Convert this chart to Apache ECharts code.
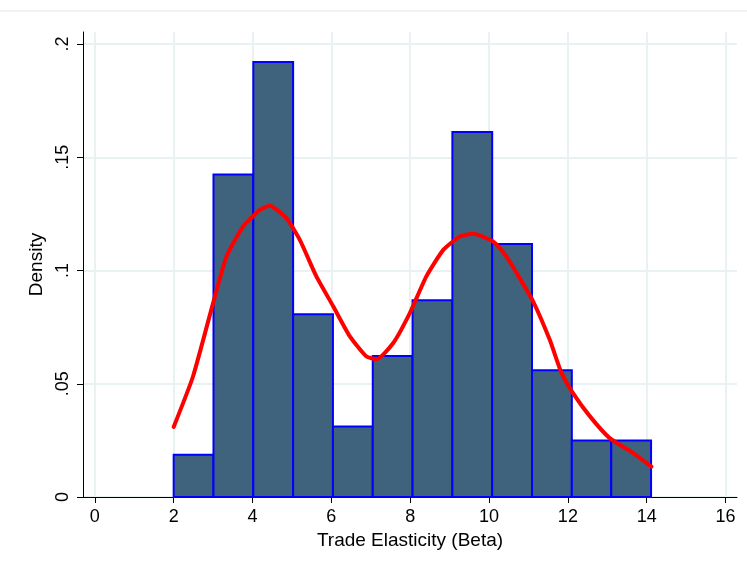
<!DOCTYPE html>
<html>
<head>
<meta charset="utf-8">
<script src="https://cdn.jsdelivr.net/npm/echarts@6/dist/echarts.min.js"></script>
<style>html,body{margin:0;padding:0;background:#fff}#c{width:747px;height:570px}</style>
</head>
<body>
<div id="c"></div>
<script>
// Histogram bins (Trade Elasticity), bin edges and density heights
const binEdges = [2.00, 3.01, 4.02, 5.03, 6.04, 7.05, 8.06, 9.07, 10.08, 11.09, 12.10, 13.10, 14.11];
const binDensity = [0.0187, 0.1424, 0.1920, 0.0807, 0.0311, 0.0623, 0.0869, 0.1611, 0.1117, 0.0560, 0.0249, 0.0249];
// Kernel density curve
const kdeX = [2.00, 2.49, 3.00, 3.34, 3.76, 4.19, 4.44, 4.86, 5.20, 5.62, 6.05, 6.47, 6.89, 7.15, 7.57, 7.99, 8.41, 8.84, 9.26, 9.60, 10.10, 10.44, 10.70, 11.12, 11.54, 11.84, 12.13, 12.56, 13.06, 13.66, 14.12];
const kdeY = [0.0309, 0.0532, 0.0856, 0.1062, 0.1194, 0.1268, 0.1286, 0.1231, 0.1135, 0.0974, 0.0841, 0.0709, 0.0620, 0.0609, 0.0680, 0.0812, 0.0974, 0.1091, 0.1150, 0.1162, 0.1128, 0.1062, 0.0989, 0.0863, 0.0694, 0.0547, 0.0459, 0.0356, 0.0260, 0.0194, 0.0134];
// Tick values
const xTicks = [0, 2, 4, 6, 8, 10, 12, 14, 16];
const yTicks = [0, 0.05, 0.1, 0.15, 0.2];

const FONT = '"Liberation Sans", Arial, sans-serif';
const chart = echarts.init(document.getElementById('c'), null, {renderer: 'canvas'});

const barData = binDensity.map((d, i) => [binEdges[i], binEdges[i + 1], d]);
const kdeData = kdeX.map((x, i) => [x, kdeY[i]]);

chart.setOption({
  animation: false,
  backgroundColor: '#ffffff',
  graphic: [{
    type: 'line', shape: {x1: 0, y1: 11, x2: 747, y2: 11},
    style: {stroke: '#e9eff0', lineWidth: 1.5}, silent: true
  }],
  grid: {left: 83, right: 10, top: 32, bottom: 73, containLabel: false},
  xAxis: {
    type: 'value', min: -0.3, max: 16.29,
    name: 'Trade Elasticity (Beta)', nameLocation: 'middle', nameGap: 29,
    nameTextStyle: {fontFamily: FONT, fontSize: 19, color: '#000'},
    axisLine: {show: true, onZero: false, lineStyle: {color: '#000', width: 1}},
    axisTick: {show: true, length: 6, customValues: xTicks, lineStyle: {color: '#000', width: 1}},
    axisLabel: {customValues: xTicks, fontFamily: FONT, fontSize: 18, color: '#000', margin: 11},
    splitLine: {show: true, lineStyle: {color: '#eaf1f3', width: 2}}
  },
  yAxis: {
    type: 'value', min: 0, max: 0.2053,
    name: 'Density', nameLocation: 'middle', nameGap: 33, nameRotate: 90,
    nameTextStyle: {fontFamily: FONT, fontSize: 19, color: '#000'},
    axisLine: {show: true, onZero: false, lineStyle: {color: '#000', width: 1}},
    axisTick: {show: true, length: 6, customValues: yTicks, lineStyle: {color: '#000', width: 1}},
    axisLabel: {
      customValues: yTicks, rotate: 90, fontFamily: FONT, fontSize: 18, color: '#000', margin: 11,
      formatter: v => v === 0 ? '0' : String(+v.toFixed(4)).replace(/^0/, '')
    },
    splitLine: {show: true, lineStyle: {color: '#eaf1f3', width: 2}}
  },
  series: [{
    type: 'custom',
    data: barData,
    encode: {x: [0, 1], y: 2},
    renderItem: function (params, api) {
      const p0 = api.coord([api.value(0), api.value(2)]);
      const p1 = api.coord([api.value(1), 0]);
      return {
        type: 'rect',
        shape: {x: p0[0], y: p0[1], width: p1[0] - p0[0], height: p1[1] - p0[1]},
        style: {fill: '#3f637c', stroke: '#0000ff', lineWidth: 2}
      };
    },
    z: 2
  }, {
    type: 'line',
    data: kdeData,
    smooth: 0.18,
    showSymbol: false,
    lineStyle: {color: '#ff0000', width: 4, cap: 'round', join: 'round'},
    z: 3
  }]
});
</script>
</body>
</html>
